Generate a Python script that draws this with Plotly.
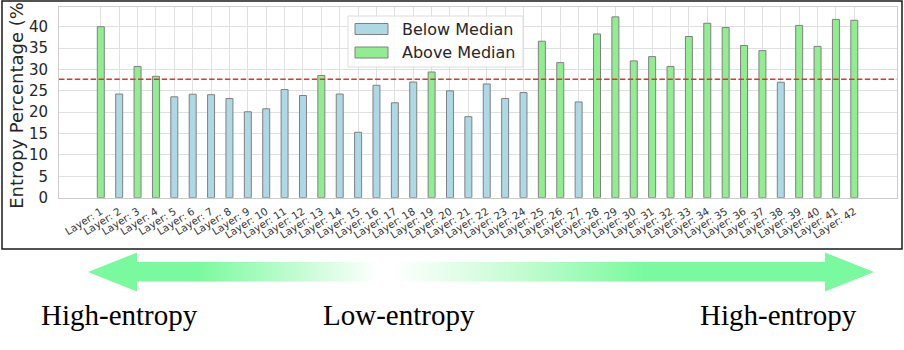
import numpy as np
import plotly.graph_objs as go

W, H = 904, 350

# Entropy percentage per layer
layers = [f"Layer: {i}" for i in range(1, 43)]
entropy = [40.0, 24.25, 30.7, 28.4, 23.6, 24.2, 24.1, 23.2, 20.1, 20.8,
           25.3, 23.9, 28.6, 24.25, 15.3, 26.3, 22.2, 27.05, 29.4, 25.0,
           18.95, 26.6, 23.2, 24.6, 36.6, 31.6, 22.4, 38.3, 42.3, 32.0,
           33.0, 30.7, 37.7, 40.8, 39.8, 35.6, 34.4, 27.0, 40.3, 35.4,
           41.7, 41.5]
y_ticks = [0, 5, 10, 15, 20, 25, 30, 35, 40]
legend_names = ["Below Median", "Above Median"]
side_labels = ["High-entropy", "Low-entropy", "High-entropy"]

median = float(np.median(entropy))
below = [(l, v) for l, v in zip(layers, entropy) if v <= median]
above = [(l, v) for l, v in zip(layers, entropy) if v > median]

BLUE = "#add8e6"
GREEN = "#90ee90"
EDGE = "#808080"
MINT = "rgb(122,250,158)"

# plot area in pixels
L, R, T, B = 59, 896.7, 7, 197.7

fig = go.Figure()
for name, grp, col in [(legend_names[0], below, BLUE), (legend_names[1], above, GREEN)]:
    fig.add_trace(go.Bar(x=[g[0] for g in grp], y=[g[1] for g in grp], name=name,
                         width=0.38, marker=dict(color=col, line=dict(color=EDGE, width=1)),
                         showlegend=False))

# decoration arrows on a full-figure pixel axis
fig.add_trace(go.Scatter(
    x=[88, 137, 137, 378, 378, 137, 137, 88],
    y=[272, 252.5, 262, 262, 281.5, 281.5, 291.5, 272],
    xaxis="x2", yaxis="y2", mode="lines", fill="toself", line=dict(width=0, color="rgba(0,0,0,0)"),
    fillgradient=dict(type="horizontal", start=88, stop=378,
                      colorscale=[[0, MINT], [0.38, MINT], [0.72, "rgb(195,252,210)"], [1, "rgb(255,255,255)"]]),
    showlegend=False, hoverinfo="skip"))
fig.add_trace(go.Scatter(
    x=[393, 825, 825, 874, 825, 825, 393, 393],
    y=[262, 262, 252.5, 272, 291.5, 281.5, 281.5, 262],
    xaxis="x2", yaxis="y2", mode="lines", fill="toself", line=dict(width=0, color="rgba(0,0,0,0)"),
    fillgradient=dict(type="horizontal", start=393, stop=874,
                      colorscale=[[0, "rgb(255,255,255)"], [0.25, "rgb(200,252,212)"], [0.52, MINT], [1, MINT]]),
    showlegend=False, hoverinfo="skip"))

shapes = [
    # median line
    dict(type="line", xref="x domain", x0=0, x1=1, yref="y", y0=median, y1=median,
         line=dict(color="#e8302a", width=1.6, dash="5.5px,2.4px")),
    # outer frame
    dict(type="rect", xref="x2", yref="y2", x0=2, x1=902, y0=1, y1=249,
         line=dict(color="#1a1a1a", width=1.5)),
    # legend box
    dict(type="rect", xref="x2", yref="y2", x0=348, x1=523, y0=16, y1=67,
         fillcolor="rgba(255,255,255,0.85)", line=dict(color="#dddddd", width=1)),
    dict(type="rect", xref="x2", yref="y2", x0=355, x1=388, y0=23.5, y1=34.5,
         fillcolor=BLUE, line=dict(color=EDGE, width=1)),
    dict(type="rect", xref="x2", yref="y2", x0=355, x1=388, y0=47, y1=58,
         fillcolor=GREEN, line=dict(color=EDGE, width=1)),
]

annotations = [
    dict(text="Entropy Percentage (%)", xref="x2", yref="y2", x=16.5, y=(T + B) / 2,
         textangle=-90, showarrow=False, font=dict(family="DejaVu Sans", size=18, color="#262626")),
    dict(text=legend_names[0], xref="x2", yref="y2", x=400, y=29, xanchor="left", yanchor="middle",
         showarrow=False, font=dict(family="DejaVu Sans", size=16, color="#262626")),
    dict(text=legend_names[1], xref="x2", yref="y2", x=400, y=52.7, xanchor="left", yanchor="middle",
         showarrow=False, font=dict(family="DejaVu Sans", size=16, color="#262626")),
]
for txt, xc in zip(side_labels, [119.2, 399, 778]):
    annotations.append(dict(text=txt, xref="x2", yref="y2", x=xc, y=315, xanchor="center", yanchor="middle",
                            showarrow=False, font=dict(family="Liberation Serif", size=29, color="black")))

px_per_cat = (854.3 - 100.8) / 41
fig.update_layout(
    template="none",
    width=W, height=H,
    margin=dict(l=0, r=0, t=0, b=0, pad=0),
    paper_bgcolor="white", plot_bgcolor="rgba(0,0,0,0)",
    barmode="overlay",
    showlegend=False,
    xaxis=dict(domain=[L / W, R / W], type="category", categoryorder="array", categoryarray=layers,
               range=[-(100.8 - L) / px_per_cat, 41 + (R - 854.3) / px_per_cat],
               showgrid=True, gridcolor="#e0e0e0", gridwidth=1,
               showline=True, mirror=True, linecolor="#cccccc", linewidth=1,
               ticks="", tickangle=-32, ticklabelstandoff=3,
               tickfont=dict(family="DejaVu Sans", size=10.3, color="#333333"),
               automargin=False, zeroline=False),
    yaxis=dict(domain=[1 - B / H, 1 - T / H], range=[0, (B - T) / ((B - 26.7) / 40)],
               tickvals=y_ticks, showgrid=True, gridcolor="#e0e0e0", gridwidth=1,
               showline=True, mirror=True, linecolor="#cccccc", linewidth=1,
               ticks="", ticklabelstandoff=7,
               tickfont=dict(family="DejaVu Sans", size=15, color="#262626"),
               automargin=False, zeroline=False),
    xaxis2=dict(domain=[0, 1], range=[0, W], visible=False, anchor="y2", fixedrange=True),
    yaxis2=dict(domain=[0, 1], range=[H, 0], visible=False, anchor="x2", fixedrange=True),
    shapes=shapes,
    annotations=annotations,
)

# page body has a default 8px margin; remove it so the figure sits at the window origin
fig.write_html("out.html", config={"displayModeBar": False},
               post_script="document.body.style.margin='0';")
